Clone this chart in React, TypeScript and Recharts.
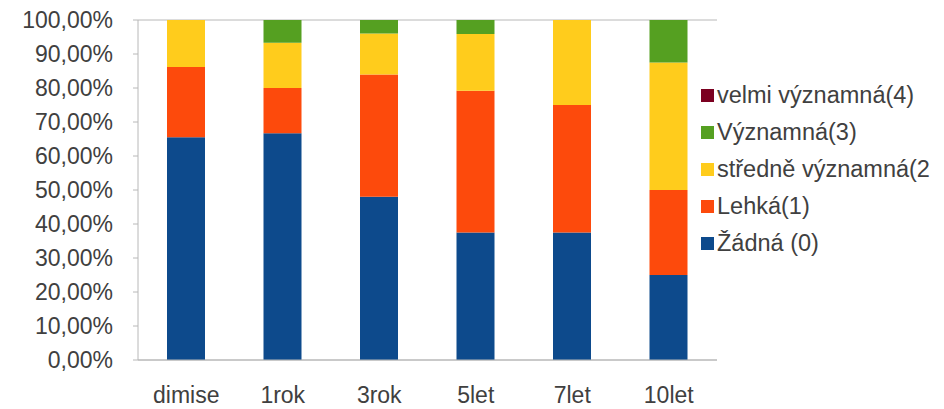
import { BarChart, Bar, XAxis, YAxis, CartesianGrid } from "recharts";

const categories = ["dimise", "1rok", "3rok", "5let", "7let", "10let"];
const zadna = [0.655, 0.667, 0.48, 0.375, 0.375, 0.25];
const lehka = [0.207, 0.133, 0.36, 0.417, 0.375, 0.25];
const stredne = [0.138, 0.133, 0.12, 0.167, 0.25, 0.375];
const vyznamna = [0, 0.067, 0.04, 0.041, 0, 0.125];
const velmi = [0, 0, 0, 0, 0, 0];
const yTicks = [0, 0.1, 0.2, 0.3, 0.4, 0.5, 0.6, 0.7, 0.8, 0.9, 1];

const series = [
    { key: "zadna", name: "Žádná (0)", color: "#0d4a8c" },
    { key: "lehka", name: "Lehká(1)", color: "#fd4a0c" },
    { key: "stredne", name: "středně významná(2", color: "#ffcc1c" },
    { key: "vyznamna", name: "Významná(3)", color: "#55a021" },
    { key: "velmi", name: "velmi významná(4)", color: "#7b0020" },
];

const data = categories.map((c, i) => ({
    name: c,
    zadna: zadna[i],
    lehka: lehka[i],
    stredne: stredne[i],
    vyznamna: vyznamna[i],
    velmi: velmi[i],
}));

const FONT = "'Liberation Sans', Arial, sans-serif";

function LegendBox() {
    return (
        <div
            style={{
                position: "absolute",
                left: 701,
                top: 77,
                fontFamily: FONT,
                fontSize: 23.5,
                color: "#404040",
                overflow: "hidden",
                width: 243,
            }}
        >
            {[...series].reverse().map((s) => (
                <div key={s.key} style={{ display: "flex", alignItems: "center", height: 37, whiteSpace: "nowrap" }}>
                    <span style={{ width: 13, height: 13, background: s.color, display: "inline-block", marginRight: 3, flexShrink: 0 }} />
                    <span>{s.name}</span>
                </div>
            ))}
        </div>
    );
}

export default function App() {
    return (
        <div style={{ position: "absolute", left: 0, top: 0, width: 944, height: 409, background: "#fff" }}>
            <BarChart
                width={944}
                height={409}
                data={data}
                margin={{ top: 20, right: 227, bottom: 0, left: 0 }}
                barSize={38}
            >
                <CartesianGrid vertical={false} stroke="#b8b8b8" />
                <XAxis
                    dataKey="name"
                    height={49}
                    tickLine={false}
                    axisLine={{ stroke: "#b8b8b8" }}
                    tick={{ fill: "#404040", fontSize: 23, fontFamily: FONT }}
                    tickMargin={21}
                    interval={0}
                />
                <YAxis
                    yAxisId="l"
                    width={138}
                    domain={[0, 1]}
                    ticks={yTicks}
                    interval={0}
                    tickSize={5}
                    tickLine={{ stroke: "#b8b8b8" }}
                    axisLine={{ stroke: "#b8b8b8" }}
                    tickMargin={20}
                    tick={{ fill: "#404040", fontSize: 23, fontFamily: FONT }}
                    tickFormatter={(v: number) => (v * 100).toFixed(2).replace(".", ",") + "%"}
                />
                <YAxis
                    yAxisId="r"
                    orientation="right"
                    width={0}
                    domain={[0, 1]}
                    tick={false}
                    tickLine={false}
                    axisLine={{ stroke: "#b8b8b8" }}
                />
                {series.map((s) => (
                    <Bar
                        key={s.key}
                        yAxisId="l"
                        dataKey={s.key}
                        name={s.name}
                        stackId="a"
                        fill={s.color}
                        isAnimationActive={false}
                    />
                ))}
            </BarChart>
            <LegendBox />
        </div>
    );
}
